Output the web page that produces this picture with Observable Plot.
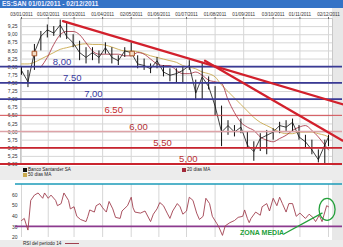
<!DOCTYPE html>
<html><head><meta charset="utf-8">
<script src="https://cdn.jsdelivr.net/npm/d3@7"></script>
<script src="https://cdn.jsdelivr.net/npm/@observablehq/plot@0.6"></script>
<style>
body{margin:0;width:343px;height:247px;overflow:hidden;background:#fff;font-family:"Liberation Sans",Arial,sans-serif;}
#title{height:8px;background:#3473c6;color:#eef;font:bold 6.5px "Liberation Sans";line-height:8px;padding-left:2px;white-space:nowrap;}
.wrap{background:linear-gradient(to right,#fff 332px,#e8e8e8 332px);}
.wrap svg{display:block;}
#leg{height:14px;background:#ececec;position:relative;font-size:4.6px;color:#222;}
#leg2{height:7px;background:#ececec;position:relative;font-size:4.6px;color:#222;}
.it{position:absolute;white-space:nowrap;line-height:5px;}
.sq{display:inline-block;width:3.5px;height:3.5px;margin-right:1.5px;vertical-align:middle;}
</style></head>
<body>
<div id="title">ES:SAN 01/01/2011 - 02/12/2011</div>
<div id="main" class="wrap"></div>
<div id="leg">
  <div class="it" style="left:23px;top:1px"><span class="sq" style="background:#111"></span>Banco Santander SA</div>
  <div class="it" style="left:23px;top:6px"><span class="sq" style="background:#c9a94e"></span>50 días MA</div>
  <div class="it" style="left:182px;top:1px"><span class="sq" style="background:#a3283a"></span>20 días MA</div>
</div>
<div id="rsi" class="wrap"></div>
<div id="leg2">
  <div class="it" style="left:23px;top:1px">RSI del período 14 <span style="display:inline-block;width:14px;height:1px;background:#a0404f;vertical-align:middle;margin-left:2px"></span></div>
</div>
<script>
const tickDates = ["2011-01-03","2011-02-01","2011-03-01","2011-04-01","2011-05-02","2011-06-01","2011-07-01","2011-08-01","2011-09-01","2011-10-03","2011-11-01","2011-12-02"];
const yTicks = [5,5.25,5.5,5.75,6,6.25,6.5,6.75,7,7.25,7.5,7.75,8,8.25,8.5,8.75,9,9.25];
const rsiTicks = [20,30,40,50,60];

const weeks = ["2011-01-03","2011-01-10","2011-01-17","2011-01-24","2011-01-31","2011-02-07","2011-02-14","2011-02-21","2011-02-28","2011-03-07","2011-03-14","2011-03-21","2011-03-28","2011-04-04","2011-04-11","2011-04-18","2011-04-25","2011-05-02","2011-05-09","2011-05-16","2011-05-23","2011-05-30","2011-06-06","2011-06-13","2011-06-20","2011-06-27","2011-07-04","2011-07-11","2011-07-18","2011-07-25","2011-08-01","2011-08-08","2011-08-15","2011-08-22","2011-08-29","2011-09-05","2011-09-12","2011-09-19","2011-09-26","2011-10-03","2011-10-10","2011-10-17","2011-10-24","2011-10-31","2011-11-07","2011-11-14","2011-11-21","2011-11-28","2011-12-02"];
const high = [8.0,7.9,8.7,9.1,9.3,9.25,9.45,9.4,9.0,8.8,8.6,8.6,8.5,8.75,8.6,8.35,8.6,8.75,8.35,8.25,8.1,8.3,8.05,7.95,7.95,8.0,8.2,7.6,8.15,7.7,7.4,6.8,6.35,6.2,6.4,6.0,5.7,5.95,6.05,6.1,6.3,6.35,6.4,6.2,5.9,5.75,5.45,5.75,5.9];
const low = [7.75,7.37,7.9,8.5,8.9,8.95,8.9,8.85,8.6,8.2,8.1,8.2,8.1,8.4,8.1,8.05,8.3,8.35,7.95,7.9,7.8,7.95,7.7,7.55,7.5,7.5,7.9,7.0,7.0,7.3,6.5,5.55,5.9,5.85,5.95,5.5,5.1,5.4,5.3,5.75,5.95,6.0,6.0,5.75,5.5,5.3,5.05,5.0,5.55];
const close = [7.9,7.55,8.45,8.95,9.15,9.05,9.3,8.95,8.75,8.45,8.3,8.45,8.3,8.6,8.3,8.2,8.5,8.45,8.1,8.05,7.95,8.2,7.85,7.75,7.8,7.9,8.05,7.2,7.7,7.4,6.8,6.0,6.2,6.0,6.15,5.6,5.4,5.8,5.9,6.0,6.2,6.15,6.3,5.85,5.7,5.45,5.15,5.6,5.85];
const ma20 = [null,null,null,8.0,8.3,8.7,9.0,9.1,9.1,9.0,8.75,8.5,8.4,8.4,8.4,8.4,8.35,8.35,8.45,8.4,8.25,8.1,8.05,8.05,7.9,7.8,7.8,7.85,7.75,7.6,7.55,7.5,7.0,6.6,6.3,6.15,6.05,5.85,5.75,5.7,5.8,5.9,6.05,6.15,6.2,6.05,5.85,5.6,5.45];
const ma50 = [8.1,8.1,8.15,8.25,8.35,8.45,8.55,8.6,8.65,8.7,8.72,8.7,8.7,8.68,8.62,8.55,8.5,8.5,8.48,8.42,8.35,8.3,8.25,8.2,8.15,8.05,8.0,7.95,7.85,7.8,7.7,7.45,7.25,7.05,6.85,6.65,6.45,6.3,6.2,6.1,6.0,5.95,5.95,6.0,6.0,6.0,5.95,5.9,5.85];

const levels = [8, 7.5, 7, 6.5, 6, 5.5, 5];
const levelLabels = ["8,00","7.50","7,00","6.50","6,00","5,50","5,00"];
const levelLabelDates = ["2011-02-16","2011-02-27","2011-03-22","2011-04-13","2011-05-10","2011-06-05","2011-07-03"];

const trendADates = ["2011-02-17","2011-12-18"];
const trendAValues = [9.42, 6.85];
const trendBDates = ["2011-07-21","2011-12-17"];
const trendBValues = [8.2, 5.74];

const markerDates = ["2011-01-17","2011-05-03"];
const markerValues = [8.42, 8.42];

const rsiDates = ["2011-01-03","2011-01-06","2011-01-10","2011-01-13","2011-01-17","2011-01-21","2011-01-26","2011-01-28","2011-02-01","2011-02-04","2011-02-09","2011-02-11","2011-02-15","2011-02-18","2011-02-23","2011-02-25","2011-03-01","2011-03-04","2011-03-08","2011-03-14","2011-03-16","2011-03-18","2011-03-23","2011-03-25","2011-03-29","2011-04-01","2011-04-05","2011-04-08","2011-04-12","2011-04-15","2011-04-20","2011-04-22","2011-04-28","2011-05-02","2011-05-04","2011-05-06","2011-05-12","2011-05-17","2011-05-23","2011-05-26","2011-05-30","2011-06-02","2011-06-06","2011-06-10","2011-06-13","2011-06-16","2011-06-21","2011-06-24","2011-06-27","2011-07-01","2011-07-04","2011-07-08","2011-07-12","2011-07-15","2011-07-19","2011-07-22","2011-07-26","2011-07-29","2011-08-03","2011-08-05","2011-08-09","2011-08-12","2011-08-17","2011-08-22","2011-08-26","2011-08-31","2011-09-02","2011-09-05","2011-09-07","2011-09-09","2011-09-14","2011-09-19","2011-09-21","2011-09-26","2011-09-29","2011-10-03","2011-10-07","2011-10-10","2011-10-13","2011-10-17","2011-10-20","2011-10-24","2011-10-28","2011-11-01","2011-11-07","2011-11-11","2011-11-15","2011-11-18","2011-11-22","2011-11-25","2011-11-30","2011-12-02"];
const rsiValues = [36,38,27,55,60,62,57,62,57,60,55,50,52,62,55,47,49,40,37,35,40,46,44,50,52,48,44,54,47,39,38,45,50,58,48,44,43,45,35,42,47,53,50,43,38,45,52,49,42,45,58,55,43,37,40,57,52,40,33,30,22,31,34,36,39,40,46,38,34,38,44,41,49,52,45,57,50,58,52,44,52,52,40,43,38,42,39,35,41,35,50,49];
const rsiLevels = [70, 30];

const annotText = "ZONA MEDIA";
const annotTextDate = "2011-09-21", annotTextValue = 24.2;
const annotLineDates = ["2011-10-15","2011-11-25"];
const annotLineValues = [23.5, 43];
const annotCircleDate = "2011-12-01", annotCircleValue = 46;

// ---- build ----
const parse = d3.utcParse("%Y-%m-%d");
const fmtTick = d3.utcFormat("%d/%m/%Y");
const xDomain = [parse(tickDates[0]), parse(tickDates[tickDates.length-1])];
const xRange = [21, 328];
const ticksParsed = tickDates.map(parse);

const price = weeks.map((d,i)=>({date: parse(d), high: high[i], low: low[i], close: close[i], ma20: ma20[i], ma50: ma50[i]}));
const trendA = trendADates.map((d,i)=>({date: parse(d), v: trendAValues[i]}));
const trendB = trendBDates.map((d,i)=>({date: parse(d), v: trendBValues[i]}));
const markers = markerDates.map((d,i)=>({date: parse(d), v: markerValues[i]}));
const lvlLab = levels.map((v,i)=>({date: parse(levelLabelDates[i]), v, t: levelLabels[i], i}));
const rsiData = rsiDates.map((d,i)=>({date: parse(d), v: rsiValues[i]}));

const levelStroke = ["#3a3a95","#3a3a95","#3a3a95","#d24a50","#dda3a8","#c9252f","#c9252f"];
const levelWidth = [1.8,1.8,1.8,1,1.6,1.8,1.8];
const labelFill = ["#3a3a9e","#3a3a9e","#3a3a9e","#c42a2e","#b03034","#b83034","#b83034"];

function hLines(vals, strokes, widths, x0, x1off){
  return (index, scales, values, dims) => {
    const g = d3.create("svg:g");
    vals.forEach((v,i)=>{
      const y = scales.y(v);
      g.append("line").attr("x1", x0).attr("x2", dims.width - x1off)
        .attr("y1", y).attr("y2", y)
        .attr("stroke", strokes[i]).attr("stroke-width", widths[i]);
    });
    return g.node();
  };
}

const font = "Liberation Sans, Arial, sans-serif";

const main = Plot.plot({
  width: 343, height: 158,
  marginLeft: 20, marginRight: 11, marginTop: 10, marginBottom: 2,
  x: {type: "utc", domain: xDomain, range: xRange, label: null},
  y: {domain: [5, 9.5], label: null},
  style: {background: "transparent", fontFamily: font},
  marks: [
    Plot.gridY(yTicks, {stroke: "#d6d6d6", strokeOpacity: 1}),
    Plot.gridX(ticksParsed, {stroke: "#d6d6d6", strokeOpacity: 1}),
    Plot.frame({stroke: "#c8c8c8"}),
    Plot.axisY(yTicks, {tickSize: 0, tickPadding: 3, fontSize: 5, label: null, fill: "#333", tickFormat: d => d.toFixed(2).replace(".", ",")}),
    Plot.axisX(ticksParsed, {anchor: "top", tickSize: 2, tickPadding: 1, fontSize: 4.6, label: null, fill: "#333", stroke: "#666", tickFormat: fmtTick}),
    Plot.line(price, {x: "date", y: "ma50", stroke: "#c9a94e", strokeWidth: 0.9, curve: "monotone-x"}),
    Plot.line(price.filter(d => d.ma20 != null), {x: "date", y: "ma20", stroke: "#a3283a", strokeWidth: 0.8, curve: "monotone-x"}),
    Plot.ruleX(price, {x: "date", y1: "low", y2: "high", stroke: "#111", strokeWidth: 1}),
    Plot.line(price, {x: "date", y: "close", stroke: "#111", strokeWidth: 0.8}),
    hLines(levels, levelStroke, levelWidth, 0, 1),
    Plot.line(trendA, {x: "date", y: "v", stroke: "#d2202c", strokeWidth: 2.2}),
    Plot.line(trendB, {x: "date", y: "v", stroke: "#d2202c", strokeWidth: 2.2}),
    Plot.dot(markers, {x: "date", y: "v", symbol: "square", r: 2.6, stroke: "#a8562a", strokeWidth: 1, fill: "#f3dcc4"}),
    Plot.text(lvlLab, {x: "date", y: "v", text: "t", dy: -5.5, fontSize: 9.5, fill: d => labelFill[d.i]})
  ]
});
document.getElementById("main").appendChild(main);

const rsiPlot = Plot.plot({
  width: 343, height: 60,
  marginLeft: 20, marginRight: 11, marginTop: 4, marginBottom: 3,
  x: {type: "utc", domain: xDomain, range: xRange, label: null, axis: null},
  y: {domain: [20, 70], label: null},
  style: {background: "transparent", fontFamily: font},
  marks: [
    Plot.gridX(ticksParsed, {stroke: "#d6d6d6", strokeOpacity: 1}),
    Plot.axisY(rsiTicks, {tickSize: 0, tickPadding: 3, fontSize: 5, label: null, fill: "#333"}),
    hLines(rsiLevels, ["#1b9bb8", "#8c3a8e"], [1.6, 1.6], 15, 1),
    Plot.line(rsiData, {x: "date", y: "v", stroke: "#a0404f", strokeWidth: 0.9}),
    Plot.line(annotLineDates.map((d,i)=>({date: parse(d), v: annotLineValues[i]})), {x: "date", y: "v", stroke: "#23a03a", strokeWidth: 1.3}),
    Plot.text([annotText], {x: parse(annotTextDate), y: annotTextValue, text: d => d, fontSize: 7, fontWeight: "bold", fill: "#23a03a"}),
    (index, scales) => {
      const e = d3.create("svg:ellipse")
        .attr("cx", scales.x(parse(annotCircleDate)))
        .attr("cy", scales.y(annotCircleValue))
        .attr("rx", 8).attr("ry", 11)
        .attr("fill", "none").attr("stroke", "#23a03a").attr("stroke-width", 1.3);
      return e.node();
    }
  ]
});
document.getElementById("rsi").appendChild(rsiPlot);
</script>
</body></html>
